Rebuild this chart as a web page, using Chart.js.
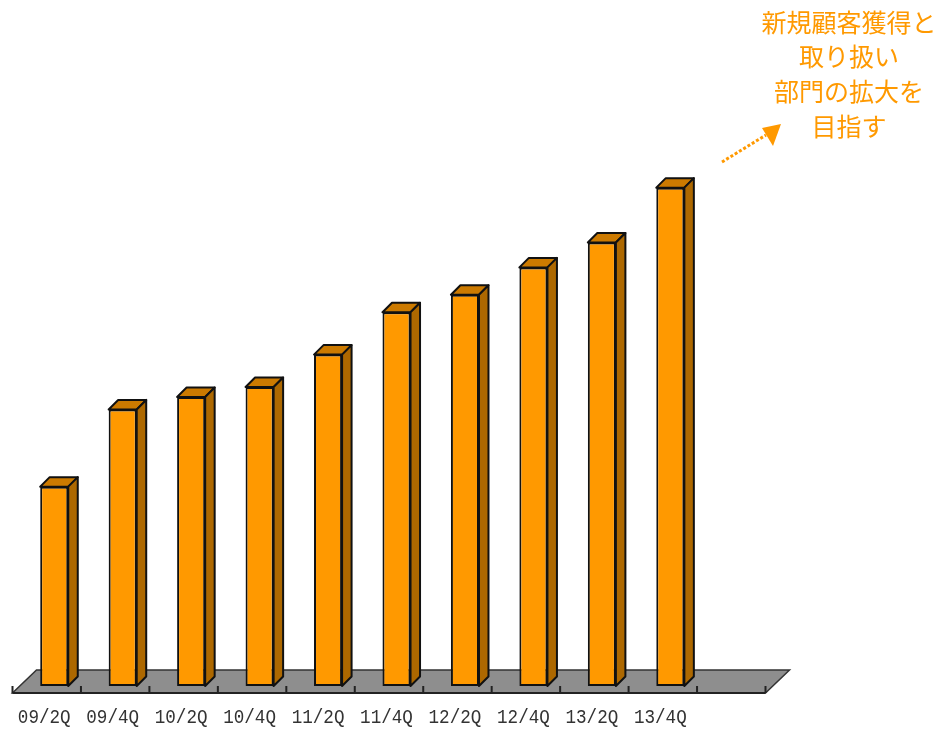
<!DOCTYPE html>
<html>
<head>
<meta charset="utf-8">
<script src="https://cdn.jsdelivr.net/npm/chart.js@4.4.0/dist/chart.umd.min.js"></script>
<style>
  html, body { margin: 0; padding: 0; background: #fff; }
  canvas { display: block; }
</style>
</head>
<body>
<canvas id="growthChart" width="940" height="731"></canvas>
<script>
// 四半期ラベル（最後の枠は空き）
const categories = ['09/2Q', '09/4Q', '10/2Q', '10/4Q', '11/2Q', '11/4Q', '12/2Q', '12/4Q', '13/2Q', '13/4Q', ''];
// 指数 (13/4Q = 100)
const values = [40, 55.5, 58, 60, 66.5, 75, 78.5, 84, 89, 100];
const yMax = 120;
// 右上の注記
const noteLines = ['新規顧客獲得と', '取り扱い', '部門の拡大を', '目指す'];

// 色
const frontColor = '#FF9900';
const topColor = '#CC7A00';
const sideColor = '#AD6800';
const floorColor = '#8E8E8E';
const noteColor = '#FF9900';

// 立体表示用のずれ
const barDepth = 9.5;
const floorDepthX = 24;
const floorDepthY = 23;
const floorShiftX = 7.5;
const floorShiftY = 7;

const threeD = {
    id: 'threeD',
    // 床
    beforeDatasetsDraw(chart) {
        const ctx = chart.ctx;
        const { left, right, bottom } = chart.chartArea;
        const x0 = left - floorShiftX, x1 = right - floorShiftX, y0 = bottom + floorShiftY;
        ctx.save();
        ctx.beginPath();
        ctx.moveTo(x0, y0);
        ctx.lineTo(x1, y0);
        ctx.lineTo(x1 + floorDepthX, y0 - floorDepthY);
        ctx.lineTo(x0 + floorDepthX, y0 - floorDepthY);
        ctx.closePath();
        ctx.fillStyle = floorColor;
        ctx.fill();
        ctx.lineWidth = 1.5;
        ctx.strokeStyle = '#333';
        ctx.stroke();
        // 手前の辺と目盛
        ctx.beginPath();
        ctx.moveTo(x0, y0);
        ctx.lineTo(x1, y0);
        const catW = (right - left) / categories.length;
        for (let k = 0; k <= categories.length; k++) {
            const tx = x0 + k * catW;
            ctx.moveTo(tx, y0);
            ctx.lineTo(tx, y0 - 7);
        }
        ctx.lineWidth = 2;
        ctx.strokeStyle = '#222';
        ctx.stroke();
        ctx.restore();
    },
    // 棒の上面と側面
    afterDatasetsDraw(chart) {
        const ctx = chart.ctx;
        const meta = chart.getDatasetMeta(0);
        ctx.save();
        ctx.lineWidth = 2;
        ctx.strokeStyle = '#111';
        ctx.lineJoin = 'round';
        meta.data.forEach(bar => {
            const { x, y, base, width } = bar.getProps(['x', 'y', 'base', 'width'], true);
            if (y == null || isNaN(y)) return;
            const l = x - width / 2, r = x + width / 2, d = barDepth;
            ctx.beginPath();
            ctx.moveTo(l, y);
            ctx.lineTo(l + d, y - d);
            ctx.lineTo(r + d, y - d);
            ctx.lineTo(r, y);
            ctx.closePath();
            ctx.fillStyle = topColor;
            ctx.fill();
            ctx.stroke();
            ctx.beginPath();
            ctx.moveTo(r, y);
            ctx.lineTo(r + d, y - d);
            ctx.lineTo(r + d, base - d);
            ctx.lineTo(r, base);
            ctx.closePath();
            ctx.fillStyle = sideColor;
            ctx.fill();
            ctx.stroke();
        });
        ctx.restore();
    },
    afterDraw(chart) {
        const ctx = chart.ctx;
        const xScale = chart.scales.x;
        // 四半期ラベル
        ctx.save();
        ctx.fillStyle = '#333';
        ctx.font = '20px "Liberation Mono"';
        ctx.textAlign = 'center';
        ctx.textBaseline = 'middle';
        categories.forEach((c, i) => {
            if (!c) return;
            ctx.save();
            ctx.translate(xScale.getPixelForValue(i) - 10, 718);
            ctx.scale(0.88, 1);
            ctx.fillText(c, 0, 0);
            ctx.restore();
        });
        ctx.restore();

        // 注記
        ctx.save();
        ctx.fillStyle = noteColor;
        ctx.font = '25px "Noto Sans CJK JP"';
        ctx.textAlign = 'center';
        ctx.textBaseline = 'middle';
        noteLines.forEach((t, i) => ctx.fillText(t, 849, 22 + i * 34.7));

        // 点線の矢印
        ctx.strokeStyle = noteColor;
        ctx.lineWidth = 3;
        ctx.setLineDash([3, 2]);
        ctx.beginPath();
        ctx.moveTo(722, 162);
        ctx.lineTo(766, 135);
        ctx.stroke();
        ctx.setLineDash([]);
        ctx.beginPath();
        ctx.moveTo(781, 124);
        ctx.lineTo(762, 128);
        ctx.lineTo(773, 146);
        ctx.closePath();
        ctx.fillStyle = noteColor;
        ctx.fill();
        ctx.restore();
    }
};

new Chart(document.getElementById('growthChart'), {
    type: 'bar',
    data: {
        labels: categories,
        datasets: [{
            data: values,
            backgroundColor: frontColor,
            borderColor: '#111',
            borderWidth: 2,
            borderSkipped: false,
            barPercentage: 0.41,
            categoryPercentage: 1
        }]
    },
    options: {
        responsive: false,
        animation: false,
        layout: { padding: { left: 20, right: 167, top: 88, bottom: 45 } },
        scales: {
            x: { display: false },
            y: { display: false, min: 0, max: yMax }
        },
        plugins: {
            legend: { display: false },
            tooltip: { enabled: false }
        }
    },
    plugins: [threeD]
});
</script>
</body>
</html>
